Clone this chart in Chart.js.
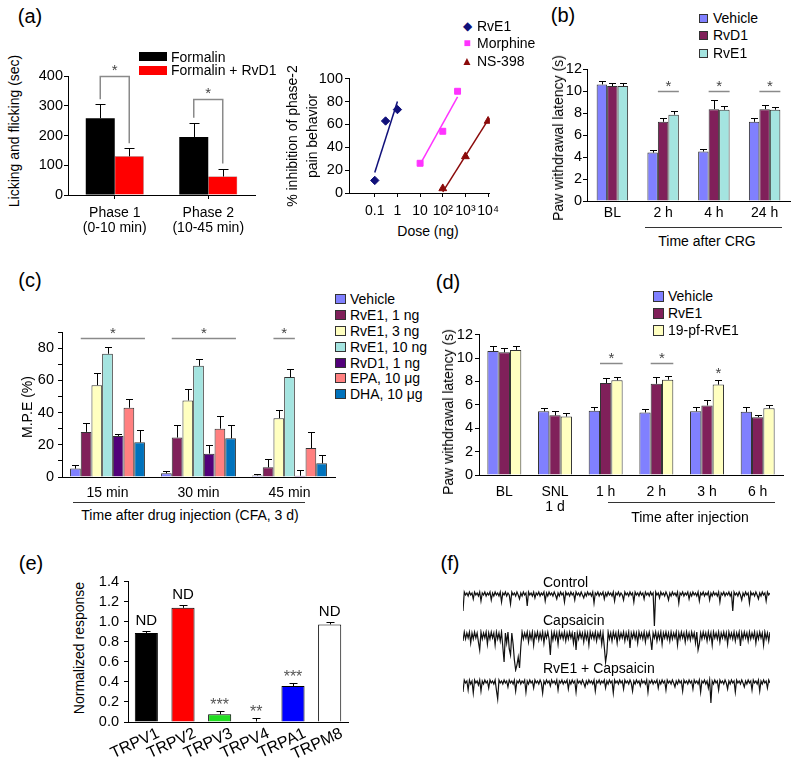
<!DOCTYPE html>
<html>
<head>
<meta charset="utf-8">
<title>RvE1 panels</title>
<script src="https://cdn.jsdelivr.net/npm/chart.js"></script>
<style>
  body { margin: 0; width: 800px; height: 764px; position: relative; overflow: hidden; background: #fff;
         font-family: Arial, "Liberation Sans", sans-serif; color: #000; }
  canvas { position: absolute; }
  .t { position: absolute; white-space: nowrap; line-height: 1; font-size: 14px; }
  .sw { position: absolute; box-sizing: border-box; border: 1px solid #333; }
  .rule { position: absolute; height: 1px; background: #333; }
</style>
</head>
<body>
<script>
/* ---------- (a) left: formalin test ---------- */
const phaseLabels = [["Phase 1", "(0-10 min)"], ["Phase 2", "(10-45 min)"]];
const formalin = [258, 195];
const formalinErr = [47, 48];
const formalinRvD1 = [130, 62];
const formalinRvD1Err = [27, 27];
const bracketA = [400, 322];

/* ---------- (a) right: dose response ---------- */
const doseTicks = [0.1, 1, 10, 100, 1000, 10000];
const doseTickLabels = ["0.1", "1", "10", "10²", "10³", "10⁴"];
const rve1Dose = [0.1, 0.3, 1];
const rve1Pct = [11, 63, 73];
const rve1FitDose = [0.1, 1];
const rve1FitPct = [18, 80];
const morphineDose = [10, 100, 450];
const morphinePct = [26, 54, 89];
const morphineFitDose = [10, 450];
const morphineFitPct = [25, 84];
const nsDose = [100, 1000, 10000];
const nsPct = [4, 32, 63];
const nsFitDose = [100, 10000];
const nsFitPct = [1, 64];

/* ---------- (b) CRG ---------- */
const bLabels = ["BL", "2 h", "4 h", "24 h"];
const vehicleB = [10.6, 4.4, 4.5, 7.2];
const vehicleBErr = [0.3, 0.25, 0.2, 0.35];
const rvd1B = [10.45, 7.2, 8.35, 8.35];
const rvd1BErr = [0.3, 0.35, 0.85, 0.35];
const rve1B = [10.45, 7.85, 8.3, 8.3];
const rve1BErr = [0.25, 0.3, 0.3, 0.25];
const sigB = [[1, 1, 2], [2, 1, 2], [3, 1, 2]];

/* ---------- (c) CFA ---------- */
const cLabels = ["15 min", "30 min", "45 min"];
const cNames = ["Vehicle", "RvE1, 1 ng", "RvE1, 3 ng", "RvE1, 10 ng", "RvD1, 1 ng", "EPA, 10 μg", "DHA, 10 μg"];
const vehicleC = [5.2, 2.3, 1];
const vehicleCErr = [2, 1.3, 1];
const rve1ng1 = [28, 24.5, 6];
const rve1ng1Err = [5.4, 7.5, 5];
const rve1ng3 = [57, 47.5, 36.5];
const rve1ng3Err = [7.3, 7, 5];
const rve1ng10 = [76.5, 69, 62];
const rve1ng10Err = [4.3, 4.5, 5];
const rvd1ng1 = [25.5, 14.5, 0.8];
const rvd1ng1Err = [1, 5.5, 3.7];
const epaC = [43, 30, 18];
const epaCErr = [5.5, 8, 10];
const dhaC = [21.5, 24, 8.5];
const dhaCErr = [7.5, 8, 5];
const sigC = [[0, 1, 6], [1, 1, 6], [2, 2, 3]];

/* ---------- (d) SNL ---------- */
const dLabels = ["BL", ["SNL", "1 d"], "1 h", "2 h", "3 h", "6 h"];
const vehicleD = [10.6, 5.45, 5.5, 5.35, 5.45, 5.4];
const vehicleDErr = [0.4, 0.25, 0.3, 0.3, 0.4, 0.4];
const rve1D = [10.5, 5.1, 7.87, 7.8, 5.95, 4.95];
const rve1DErr = [0.4, 0.35, 0.43, 0.55, 0.5, 0.2];
const pfD = [10.7, 5.0, 8.1, 8.15, 7.73, 5.7];
const pfDErr = [0.3, 0.3, 0.3, 0.35, 0.37, 0.3];
const sigD = [[2, 1, 2], [3, 1, 2]];
const starD = [[4, 2]];

/* ---------- (e) TRP channels ---------- */
const eLabels = ["TRPV1", "TRPV2", "TRPV3", "TRPV4", "TRPA1", "TRPM8"];
const eVals = [0.887, 1.139, 0.077, 0.005, 0.358, 0.974];
const eErr = [0.02, 0.03, 0.033, 0.035, 0.03, 0.025];
const eNotes = ["ND", "ND", "***", "**", "***", "ND"];

/* ---------- (f) current traces (pA, baseline 0) ---------- */
const controlTrace = [
  -17, 2, -1, 1, -2, 2, -1, 1, -5, 2, -1, 1, -2, 2, -7, 1, -1, 2, -2, 1,
  -1, 2, -6, 1, -2, 2, -1, 1, -2, 2, -8, 1, -1, 2, -2, 1, -1, -10, 2, -1,
  1, -2, 2, -1, -5, 1, -2, 2, -1, 1, -12, 2, -1, 1, -2, 2, -4, 1, -1, 2,
  -2, 1, -1, 2, -7, 1, -2, 2, -1, 1, -2, 2, -1, -5, 1, -2, 2, -1, 1, -8,
  2, -1, 1, -2, 2, -1, 1, -6, 2, -1, 1, -2, 2, -1, -4, 1, -2, 2, -1, 1,
  -2, 2, -9, 1, -1, 2, -2, 1, -1, 2, -5, 1, -2, 2, -1, 1, -2, 2, -7, 1,
  -1, 2, -2, 1, -1, -6, 2, -1, 1, -2, 2, -1, 1, -8, 2, -1, 1, -2, 2, -1,
  1, -5, 2, -1, 1, -2, 2, -1, 1, -32, 2, -1, 1, -4, 2, -1, 1, -2, 2, -1,
  -6, 1, -2, 2, -1, 1, -2, 2, -9, 1, -1, 2, -2, 1, -1, 2, -5, 1, -2, 2,
  -1, 1, -2, 2, -7, 1, -1, 2, -2, 1, -1, 2, -6, 1, -2, 2, -1, 1, -2, 2,
  -8, 1, -1, 2, -2, 1, -1, 2, -2, 1, -17, 2, -1, 1, -2, 2, -1, -6, 1, -2,
  2, -1, 1, -9, 2, -1, 1, -2, 2, -1, -5, 1, -2, 2, -1, 1, -7, 2, -1, 1
];
const capsaicinTrace = [
  -6, 3, -4, 2, -3, 3, -8, 2, -4, 3, -3, 2, -7, -15, 3, -4, 2, -3, 3, -9,
  2, -4, 3, -3, 2, -10, 3, -4, 2, -6, 3, -12, -27, 2, -8, 3, -14, -20, 2, -9,
  -25, -35, -30, -22, -33, -12, 3, -4, 2, -3, 3, -7, 2, -4, 3, -10, 2, -3, 3, -5,
  2, -4, 3, -8, 2, -3, 3, -4, -20, 2, -5, 3, -4, 2, -9, 3, -3, 2, -4, 3,
  -6, 2, -4, 3, -3, 2, -8, 3, -15, 2, -4, 3, -3, 2, -7, 3, -4, 2, -10, 3,
  -3, 2, -4, 3, -6, 2, -3, 3, -9, 2, -12, -27, -18, 3, -4, 2, -6, 3, -3, 2,
  -8, 3, -4, 2, -3, 3, -6, 2, -4, 3, -13, 2, -3, 3, -4, 2, -8, 3, -3, 2,
  -4, 3, -7, 2, -3, 3, -4, -15, 2, -3, 3, -6, 2, -4, 3, -9, 2, -3, 3, -4,
  2, -6, 3, -4, 2, -3, 3, -10, 2, -4, 3, -3, 2, -7, 3, -4, 2, -5, 3, -3,
  2, -8, 3, -15, -9, 2, -4, 3, -3, 2, -6, 3, -4, 2, -10, 3, -3, 2, -4, 3,
  -7, 2, -3, 3, -4, 2, -9, 3, -3, 2, -4, 3, -6, 2, -3, 3, -11, 2, -4, 3,
  -3, 2, -6, 3, -4, 2, -3, 3, -8, 2, -4, 3, -3, 2, -10, 3, -4, 2, -6, 3
];
const rveCapsTrace = [
  -10, 2, -1, 1, -8, 2, -2, 1, -11, 2, -1, 1, -3, 2, -9, 1, -2, 2, -1, 1,
  -6, 2, -1, 1, -2, 2, -8, -17, 2, -1, 1, -2, 2, -1, 1, -5, 2, -1, 1, -2,
  2, -9, 1, -1, 2, -2, 1, -1, 2, -10, 1, -2, 2, -1, 1, -6, 2, -1, 1, -2,
  2, -1, -11, 1, -2, 2, -1, 1, -4, 2, -1, 1, -2, 2, -8, 1, -1, 2, -2, 1,
  -1, 2, -7, 1, -2, 2, -1, 1, -10, 2, -1, 1, -2, 2, -1, -5, 1, -2, 2, -1,
  1, -2, 2, -9, 1, -1, 2, -2, 1, -1, 2, -6, 1, -2, 2, -1, 1, -11, 2, -1,
  1, -2, 2, -1, 1, -7, 2, -1, 1, -2, 2, -1, -9, 1, -2, 2, -1, 1, -4, 2,
  -1, 1, -2, 2, -10, 1, -1, 2, -2, 1, -1, 2, -6, 1, -2, 2, -1, 1, -8, 2,
  -1, 1, -2, 2, -1, -5, 1, -2, 2, -1, 1, -9, 2, -1, 1, -2, 2, -1, 1, -7,
  2, -1, 1, -2, 2, -10, 1, -1, 2, -2, 1, -6, 2, -21, 1, -2, 2, -1, 1, -8,
  2, -1, 1, -2, 2, -1, -7, 1, -2, 2, -1, 1, -10, 2, -1, 1, -2, 2, -1, -5,
  1, -2, 2, -1, 1, -8, 2, -1, 1, -2, 2, -9, 1, -2, 2, -1, 1, -6, 2, -1
];

/* ---------- colours ---------- */
const cVeh = "#8080ff", cMaroon = "#80205a", cCyan = "#a4e4e0", cYellow = "#ffffc0";
const cPurple = "#52007a", cSalmon = "#ff8080", cDha = "#0072bc";
const navy = "#10107a", magenta = "#ff33ff", darkRed = "#8b0a0a";

Chart.defaults.font.family = 'Arial, "Liberation Sans", sans-serif';
Chart.defaults.font.size = 14;
Chart.defaults.color = "#000";
Chart.defaults.animation = false;
Chart.defaults.plugins.legend.display = false;
Chart.defaults.plugins.tooltip.enabled = false;

/* ---------- helpers ---------- */
function canvasAt(left, top, w, h) {
  const c = document.createElement("canvas");
  c.width = w; c.height = h;
  c.style.left = left + "px"; c.style.top = top + "px";
  c.style.width = w + "px"; c.style.height = h + "px";
  document.body.appendChild(c);
  return c;
}

function txt(s, x, y, o = {}) {
  const d = document.createElement("div");
  d.className = "t";
  d.textContent = s;
  d.style.left = x + "px";
  d.style.top = y + "px";
  if (o.size) d.style.fontSize = o.size + "px";
  if (o.color) d.style.color = o.color;
  let tf = o.left ? "translate(0,-50%)" : "translate(-50%,-50%)";
  if (o.rot) tf += " rotate(-90deg)";
  d.style.transform = tf;
  document.body.appendChild(d);
}

function swatch(x, y, w, h, color, border) {
  const d = document.createElement("div");
  d.className = "sw";
  Object.assign(d.style, { left: x + "px", top: y + "px", width: w + "px", height: h + "px", background: color });
  if (border === false) d.style.border = "none";
  document.body.appendChild(d);
}

function rule(x, y, w) {
  const d = document.createElement("div");
  d.className = "rule";
  Object.assign(d.style, { left: x + "px", top: y + "px", width: w + "px" });
  document.body.appendChild(d);
}

function yAxis(min, max, step, w, pad, cb) {
  return {
    min, max,
    border: { display: true, color: "#000", width: 1 },
    grid: { drawOnChartArea: false, drawTicks: true, tickLength: 4, color: "#000" },
    ticks: { stepSize: step, padding: pad, autoSkip: false, color: "#000", font: { size: 14.5 }, callback: cb || (v => v) },
    afterFit: s => { s.width = w; }
  };
}

function xAxis(h, pad, extra = {}) {
  return Object.assign({
    border: { display: true, color: "#000", width: 1 },
    grid: { display: false, drawTicks: false },
    ticks: { padding: pad, color: "#000", autoSkip: false, maxRotation: 0, font: { size: 14, lineHeight: 1.1 } },
    afterFit: s => { s.height = h; }
  }, extra);
}

function star(ctx, s, x, y, size, color) {
  ctx.font = size + 'px Arial, "Liberation Sans", sans-serif';
  ctx.fillStyle = color;
  ctx.textAlign = "center";
  ctx.textBaseline = "alphabetic";
  ctx.fillText(s, x, y);
}

// error bars, significance lines, brackets and notes, all placed through the y scale
const marks = {
  id: "marks",
  afterDatasetsDraw(chart, args, o) {
    const ctx = chart.ctx, ys = chart.scales.y;
    const bar = (ds, c) => chart.getDatasetMeta(ds).data[c];
    const errTop = (ds, c) => {
      const d = chart.data.datasets[ds];
      return ys.getPixelForValue(d.data[c] + (d.err ? d.err[c] : 0));
    };
    ctx.save();
    chart.data.datasets.forEach((ds, di) => {
      if (!ds.err) return;
      chart.getDatasetMeta(di).data.forEach((b, i) => {
        const x = Math.round(b.x) + 0.5;
        const top = Math.round(errTop(di, i)) + 0.5;
        ctx.strokeStyle = "#000";
        ctx.lineWidth = 1;
        ctx.beginPath();
        ctx.moveTo(x, b.y);
        ctx.lineTo(x, top);
        ctx.moveTo(x - o.cap, top);
        ctx.lineTo(x + o.cap, top);
        ctx.stroke();
      });
    });
    (o.lines || []).forEach(([c, a, b]) => {
      const A = bar(a, c), B = bar(b, c);
      const y = Math.round(ys.getPixelForValue(o.level)) + 0.5;
      const x0 = A.x - A.width / 2, x1 = B.x + B.width / 2;
      ctx.strokeStyle = "#8a8a8a";
      ctx.lineWidth = 1.5;
      ctx.beginPath();
      ctx.moveTo(x0, y);
      ctx.lineTo(x1, y);
      ctx.stroke();
      star(ctx, "*", (x0 + x1) / 2, y - 1, 15, "#444");
    });
    (o.stars || []).forEach(([c, ds]) => {
      star(ctx, "*", bar(ds, c).x, errTop(ds, c) - 2, 15, "#444");
    });
    (o.brackets || []).forEach((lvl, c) => {
      const A = bar(0, c), B = bar(1, c);
      const y = Math.round(ys.getPixelForValue(lvl)) + 0.5;
      ctx.strokeStyle = "#8a8a8a";
      ctx.lineWidth = 1.5;
      ctx.beginPath();
      ctx.moveTo(A.x, errTop(0, c) - 5);
      ctx.lineTo(A.x, y);
      ctx.lineTo(B.x, y);
      ctx.lineTo(B.x, errTop(1, c) - 5);
      ctx.stroke();
      star(ctx, "*", (A.x + B.x) / 2, y - 2, 15, "#444");
    });
    (o.notes || []).forEach((s, c) => {
      const isStar = s[0] === "*";
      const y = errTop(0, c) - (isStar ? 1 : 6);
      star(ctx, s, bar(0, c).x, y, isStar ? 16 : 15, isStar ? "#555" : "#000");
    });
    ctx.restore();
  }
};

const pts = (xs, ys) => xs.map((x, i) => ({ x, y: ys[i] }));

/* ---------- (a) left ---------- */
new Chart(canvasAt(28, 56, 232, 184), {
  type: "bar",
  data: {
    labels: phaseLabels,
    datasets: [
      { data: formalin, err: formalinErr, backgroundColor: "#000" },
      { data: formalinRvD1, err: formalinRvD1Err, backgroundColor: "#ff0000", borderColor: "#700", borderWidth: 0.5 }
    ]
  },
  options: {
    responsive: false, devicePixelRatio: 1,
    layout: { padding: { top: 20, right: 5 } },
    datasets: { bar: { barPercentage: 1, categoryPercentage: 0.62 } },
    scales: {
      x: xAxis(45, 6, { grid: { display: true, offset: false, drawOnChartArea: false, drawTicks: true, tickLength: 4, color: "#000" } }),
      y: yAxis(0, 400, 100, 40, 1)
    },
    plugins: { marks: { cap: 5, brackets: bracketA } }
  },
  plugins: [marks]
});

/* ---------- (a) right ---------- */
new Chart(canvasAt(314, 68, 191, 150), {
  type: "scatter",
  data: {
    datasets: [
      { data: pts(rve1Dose, rve1Pct), pointStyle: "rectRot", pointRadius: 4.2, backgroundColor: navy, borderColor: navy },
      { data: pts(rve1FitDose, rve1FitPct), showLine: true, pointRadius: 0, borderColor: navy, borderWidth: 1.5 },
      { data: pts(morphineDose, morphinePct), pointStyle: "rect", pointRadius: 4.2, backgroundColor: magenta, borderColor: magenta },
      { data: pts(morphineFitDose, morphineFitPct), showLine: true, pointRadius: 0, borderColor: magenta, borderWidth: 1.5 },
      { data: pts(nsDose, nsPct), pointStyle: "triangle", pointRadius: 4.5, backgroundColor: darkRed, borderColor: darkRed },
      { data: pts(nsFitDose, nsFitPct), showLine: true, pointRadius: 0, borderColor: darkRed, borderWidth: 1.5 }
    ]
  },
  options: {
    responsive: false, devicePixelRatio: 1,
    layout: { padding: { top: 10, right: 8 } },
    scales: {
      x: {
        type: "logarithmic", min: 0.0073, max: 12000,
        border: { display: true, color: "#000", width: 1 },
        grid: { drawOnChartArea: false, drawTicks: true, tickLength: 4, color: "#000" },
        afterBuildTicks: s => { s.ticks = doseTicks.map(v => ({ value: v })); },
        ticks: { padding: 6, color: "#000", autoSkip: false, maxRotation: 0, font: { size: 14, lineHeight: 1.1 },
                 callback: (v, i) => doseTickLabels[i] },
        afterFit: s => { s.height = 25; }
      },
      y: yAxis(0, 100, 20, 35, 2)
    }
  }
});

/* ---------- (b) ---------- */
new Chart(canvasAt(557, 47, 239, 176), {
  type: "bar",
  data: {
    labels: bLabels,
    datasets: [
      { data: vehicleB, err: vehicleBErr, backgroundColor: cVeh },
      { data: rvd1B, err: rvd1BErr, backgroundColor: cMaroon },
      { data: rve1B, err: rve1BErr, backgroundColor: cCyan }
    ]
  },
  options: {
    responsive: false, devicePixelRatio: 1,
    layout: { padding: { top: 22, right: 6 } },
    datasets: { bar: { barPercentage: 1, categoryPercentage: 0.62, borderColor: "#333", borderWidth: 1 } },
    scales: { x: xAxis(22, 4), y: yAxis(0, 12, 2, 30, 1) },
    plugins: { marks: { cap: 3.5, level: 10, lines: sigB } }
  },
  plugins: [marks]
});

/* ---------- (c) ---------- */
const cSeries = [vehicleC, rve1ng1, rve1ng3, rve1ng10, rvd1ng1, epaC, dhaC];
const cErrs = [vehicleCErr, rve1ng1Err, rve1ng3Err, rve1ng10Err, rvd1ng1Err, epaCErr, dhaCErr];
const cColors = [cVeh, cMaroon, cYellow, cCyan, cPurple, cSalmon, cDha];
new Chart(canvasAt(32, 318, 305, 181), {
  type: "bar",
  data: {
    labels: cLabels,
    datasets: cSeries.map((d, i) => ({ label: cNames[i], data: d, err: cErrs[i], backgroundColor: cColors[i] }))
  },
  options: {
    responsive: false, devicePixelRatio: 1,
    layout: { padding: { top: 14, right: 2 } },
    datasets: { bar: { barPercentage: 1, categoryPercentage: 0.823, borderColor: "#333", borderWidth: 1 } },
    scales: { x: xAxis(22, 8), y: yAxis(0, 90, 10, 30, 4, v => (v % 20 === 0 ? v : "")) },
    plugins: { marks: { cap: 3.5, level: 86, lines: sigC } }
  },
  plugins: [marks]
});

/* ---------- (d) ---------- */
new Chart(canvasAt(449, 324, 340, 191), {
  type: "bar",
  data: {
    labels: dLabels,
    datasets: [
      { data: vehicleD, err: vehicleDErr, backgroundColor: cVeh },
      { data: rve1D, err: rve1DErr, backgroundColor: cMaroon },
      { data: pfD, err: pfDErr, backgroundColor: cYellow }
    ]
  },
  options: {
    responsive: false, devicePixelRatio: 1,
    layout: { padding: { top: 8, right: 6 } },
    datasets: { bar: { barPercentage: 1, categoryPercentage: 0.67, borderColor: "#333", borderWidth: 1 } },
    scales: { x: xAxis(40, 9), y: yAxis(0, 12, 2, 30, 2) },
    plugins: { marks: { cap: 3.5, level: 9.6, lines: sigD, stars: starD } }
  },
  plugins: [marks]
});

/* ---------- (e) ---------- */
new Chart(canvasAt(92, 568, 262, 196), {
  type: "bar",
  data: {
    labels: eLabels,
    datasets: [{
      data: eVals, err: eErr,
      backgroundColor: ["#000000", "#ff0000", "#22dd22", "#ffffff", "#0000ff", "#ffffff"],
      borderColor: "#000", borderWidth: 1
    }]
  },
  options: {
    responsive: false, devicePixelRatio: 1,
    layout: { padding: { top: 10, right: 6 } },
    datasets: { bar: { barPercentage: 1, categoryPercentage: 0.63 } },
    scales: {
      x: xAxis(42, 2, {
        ticks: { padding: 2, color: "#000", autoSkip: false, minRotation: 25, maxRotation: 25, labelOffset: 12, font: { size: 16 } }
      }),
      y: yAxis(0, 1.4, 0.2, 36, 5, v => v.toFixed(1))
    },
    plugins: { marks: { cap: 4, notes: eNotes } }
  },
  plugins: [marks]
});

/* ---------- (f) ---------- */
function trace(top, h, vals, lo, hi) {
  new Chart(canvasAt(463, top, 307, h), {
    type: "line",
    data: { labels: vals.map((_, i) => i), datasets: [{ data: vals, borderColor: "#111", borderWidth: 1.2, pointRadius: 0, tension: 0 }] },
    options: {
      responsive: false, devicePixelRatio: 1,
      layout: { padding: 0 },
      scales: { x: { display: false }, y: { display: false, min: lo, max: hi } }
    }
  });
}
trace(588, 42, controlTrace, -36, 6);
trace(629, 43, capsaicinTrace, -37, 6);
trace(676, 30, rveCapsTrace, -24, 6);

/* ---------- texts, legends ---------- */
txt("(a)", 30, 16, { size: 20 });
txt("(b)", 563, 15, { size: 20 });
txt("(c)", 30, 280, { size: 20 });
txt("(d)", 448, 282, { size: 20 });
txt("(e)", 31, 563, { size: 20 });
txt("(f)", 450, 563, { size: 20 });

swatch(139, 52, 28, 9, "#000", false);
swatch(139, 66, 28, 9, "#ff0000", false);
txt("Formalin", 171, 57, { left: true });
txt("Formalin + RvD1", 171, 70, { left: true });
txt("Licking and flicking (sec)", 14, 131, { rot: true });

txt("◆", 467, 25.5, { size: 12, color: navy });
txt("■", 467, 42.5, { size: 12, color: magenta });
txt("▲", 467, 60.5, { size: 12, color: darkRed });
txt("RvE1", 477, 25.5, { left: true });
txt("Morphine", 477, 42.5, { left: true });
txt("NS-398", 477, 60.5, { left: true });
txt("% inhibition of phase-2", 292, 136, { rot: true });
txt("pain behavior", 312, 136, { rot: true });
txt("Dose (ng)", 428, 231);

[["Vehicle", cVeh], ["RvD1", cMaroon], ["RvE1", cCyan]].forEach(([n, c], i) => {
  const cy = [18, 35, 53][i];
  swatch(699, cy - 4.5, 9, 9, c);
  txt(n, 713, cy, { left: true });
});
txt("Paw withdrawal latency (s)", 558, 138, { rot: true });
rule(645, 227, 137);
txt("Time after CRG", 707, 241);

cNames.forEach((n, i) => {
  const cy = 299.3 + i * 15.8;
  swatch(335, cy - 5, 11, 10, cColors[i]);
  txt(n, 350, cy, { left: true });
});
txt("M.P.E (%)", 27, 407, { rot: true });
rule(73, 502, 232);
txt("Time after drug injection (CFA, 3 d)", 190, 515);

[["Vehicle", cVeh], ["RvE1", cMaroon], ["19-pf-RvE1", cYellow]].forEach(([n, c], i) => {
  const cy = 296 + i * 17;
  swatch(653, cy - 5.5, 11, 11, c);
  txt(n, 668, cy, { left: true });
});
txt("Paw withdrawal latency (s)", 448, 412, { rot: true });
rule(608, 502, 167);
txt("Time after injection", 690, 517);

txt("Normalized response", 79, 648, { rot: true });

txt("Control", 543, 582, { left: true });
txt("Capsaicin", 543, 620, { left: true });
txt("RvE1 + Capsaicin", 543, 668, { left: true });
</script>
</body>
</html>
